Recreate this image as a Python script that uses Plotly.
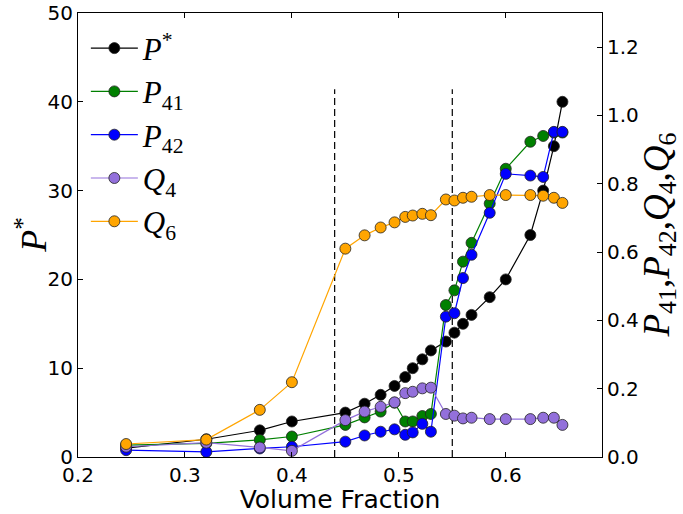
import plotly.graph_objects as go

# ---- data ----
vol_frac = [0.245, 0.32, 0.37, 0.40, 0.45, 0.468, 0.483, 0.496, 0.506, 0.513, 0.522,
            0.53, 0.544, 0.552, 0.56, 0.568, 0.585, 0.60, 0.623, 0.635, 0.645, 0.653]
p_star = [1, 2, 3, 4, 5, 6, 7, 8, 9, 10, 11, 12, 13, 14, 15, 16, 18, 20, 25, 30, 35, 40]
p41 = [0.035, 0.04, 0.05, 0.06, 0.094, 0.116, 0.133, 0.159, 0.104, 0.104, 0.12,
       0.126, 0.445, 0.488, 0.572, 0.627, 0.742, 0.844, 0.923, 0.94, 0.95, 0.95]
p42 = [0.02, 0.015, 0.025, 0.03, 0.045, 0.063, 0.074, 0.081, 0.065, 0.072, 0.097,
       0.074, 0.411, 0.421, 0.524, 0.592, 0.715, 0.829, 0.824, 0.82, 0.952, 0.952]
q4 = [0.03, 0.042, 0.028, 0.018, 0.108, 0.133, 0.147, 0.16, 0.187, 0.191, 0.201,
      0.203, 0.126, 0.121, 0.113, 0.115, 0.111, 0.111, 0.111, 0.115, 0.115, 0.094]
q6 = [0.038, 0.051, 0.138, 0.219, 0.61, 0.649, 0.672, 0.687, 0.703, 0.707, 0.712,
      0.708, 0.754, 0.751, 0.759, 0.762, 0.767, 0.767, 0.767, 0.765, 0.759, 0.744]
boundaries = [0.44, 0.55]
boundary_top = 41.4

x_ticks = [0.2, 0.3, 0.4, 0.5, 0.6]
y_left_ticks = [0, 10, 20, 30, 40, 50]
y_right_ticks = [0.0, 0.2, 0.4, 0.6, 0.8, 1.0, 1.2]

names = ["<i>P</i><sup>*</sup>", "<i>P</i><sub>41</sub>", "<i>P</i><sub>42</sub>",
         "<i>Q</i><sub>4</sub>", "<i>Q</i><sub>6</sub>"]
colors = ["#000000", "#008000", "#0000ff", "#9370db", "#ffa500"]

fig = go.Figure()

def add(y, name, color, yaxis, group):
    fig.add_trace(go.Scatter(
        x=vol_frac, y=y, name=name, mode="lines+markers", yaxis=yaxis,
        legendgroup=group,
        line=dict(color=color, width=1.2),
        marker=dict(size=11, color=color, line=dict(color="#222222", width=0.8)),
    ))

add(p_star, names[0], colors[0], "y", "a")
for xb in boundaries:
    fig.add_trace(go.Scatter(x=[xb, xb], y=[0, boundary_top], mode="lines", yaxis="y",
                             showlegend=False, hoverinfo="skip",
                             line=dict(color="black", width=1.2, dash="7px,4px")))
add(p41, names[1], colors[1], "y2", "b")
add(p42, names[2], colors[2], "y2", "c")
add(q4, names[3], colors[3], "y2", "d")
add(q6, names[4], colors[4], "y2", "e")

tickfont = dict(family="DejaVu Sans", size=20, color="black")
fig.update_layout(
    width=683, height=514,
    margin=dict(l=78, r=81, t=13, b=57, autoexpand=False),
    plot_bgcolor="white", paper_bgcolor="white",
    font=dict(family="DejaVu Sans", color="black"),
    xaxis=dict(range=[0.2, 0.69], tickvals=x_ticks, ticktext=[f"{v:.1f}" for v in x_ticks],
               ticks="inside", ticklen=5, tickcolor="black", showline=True,
               linecolor="black", linewidth=1, mirror="ticks", showgrid=False,
               zeroline=False, tickfont=tickfont, automargin=False,
               title=dict(text="Volume Fraction", font=dict(family="DejaVu Sans", size=25),
                          standoff=0)),
    yaxis=dict(range=[0, 50], tickvals=y_left_ticks, ticks="inside", ticklen=5,
               tickcolor="black", showline=True, linecolor="black", linewidth=1,
               showgrid=False, zeroline=False, tickfont=tickfont, automargin=False),
    yaxis2=dict(range=[0, 1.3], tickvals=y_right_ticks,
                ticktext=[f"{v:.1f}" for v in y_right_ticks], overlaying="y",
                side="right", anchor="x", ticks="inside", ticklen=5, tickcolor="black",
                showline=True, linecolor="black", linewidth=1, showgrid=False,
                zeroline=False, tickfont=tickfont, automargin=False),
    legend=dict(x=0.015, y=0.981, xanchor="left", yanchor="top",
                bgcolor="rgba(0,0,0,0)", itemwidth=47, traceorder="grouped",
                tracegroupgap=0,
                font=dict(family="Liberation Serif", size=31, color="black")),
    showlegend=True,
    annotations=[
        dict(text="<i>P</i><sup>*</sup>", xref="paper", yref="paper", x=-0.09, y=0.5,
             xanchor="center", yanchor="middle", textangle=-90, showarrow=False,
             font=dict(family="Liberation Serif", size=36, color="black")),
        dict(text="<i>P</i><sub>41</sub>,<i>P</i><sub>42</sub>,"
                  "<i>Q</i><sub>4</sub>,<i>Q</i><sub>6</sub>",
             xref="paper", yref="paper", x=1.108, y=0.5, xanchor="center",
             yanchor="middle", textangle=-90, showarrow=False,
             font=dict(family="Liberation Serif", size=37, color="black")),
    ],
)

fig.write_html("out.html")
